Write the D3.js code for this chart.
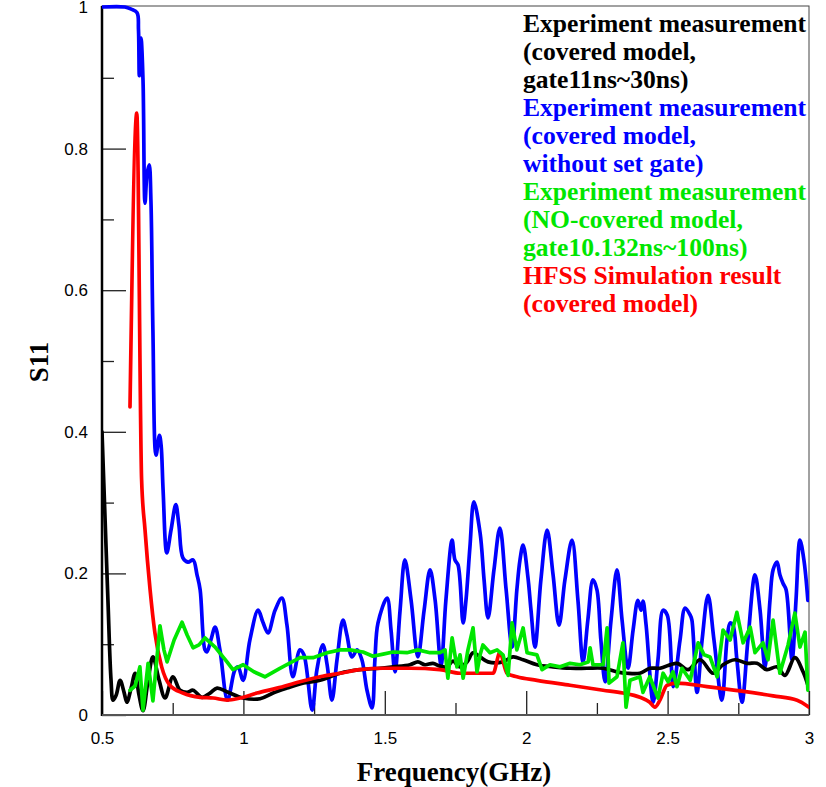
<!DOCTYPE html>
<html>
<head>
<meta charset="utf-8">
<script src="https://cdn.jsdelivr.net/npm/d3@7"></script>
<style>
  body { margin: 0; background: #fff; }
  svg { display: block; }
</style>
</head>
<body>
<script>
//------------ DATA (frequency GHz, S11) ----------------------
const blue = [[0.5,1.0],[0.581,1.0],[0.603,0.997],[0.624,0.992],[0.629,0.968],[0.632,0.903],[0.638,0.956],[0.645,0.897],[0.652,0.723],[0.659,0.763],[0.667,0.777],[0.673,0.727],[0.680,0.544],[0.691,0.367],[0.703,0.395],[0.709,0.381],[0.716,0.318],[0.729,0.229],[0.744,0.261],[0.761,0.297],[0.772,0.268],[0.786,0.222],[0.804,0.216],[0.822,0.219],[0.836,0.198],[0.847,0.177],[0.864,0.092],[0.871,0.089],[0.885,0.106],[0.900,0.124],[0.917,0.092],[0.944,0.021],[0.970,0.064],[0.981,0.068],[0.999,0.049],[1.023,0.106],[1.052,0.148],[1.069,0.131],[1.087,0.116],[1.112,0.148],[1.136,0.165],[1.154,0.127],[1.175,0.054],[1.200,0.092],[1.214,0.085],[1.243,0.007],[1.260,0.064],[1.281,0.099],[1.296,0.071],[1.313,0.021],[1.331,0.078],[1.352,0.134],[1.366,0.113],[1.384,0.082],[1.402,0.092],[1.419,0.078],[1.437,0.035],[1.455,0.010],[1.465,0.078],[1.476,0.130],[1.508,0.165],[1.522,0.120],[1.536,0.061],[1.554,0.148],[1.571,0.219],[1.593,0.162],[1.617,0.082],[1.639,0.148],[1.660,0.205],[1.678,0.162],[1.699,0.071],[1.716,0.162],[1.738,0.247],[1.748,0.219],[1.759,0.212],[1.777,0.130],[1.787,0.162],[1.801,0.237],[1.815,0.301],[1.837,0.257],[1.851,0.191],[1.865,0.137],[1.886,0.205],[1.907,0.264],[1.929,0.177],[1.950,0.096],[1.967,0.177],[1.978,0.219],[1.989,0.240],[2.006,0.195],[2.017,0.148],[2.031,0.096],[2.052,0.191],[2.074,0.261],[2.095,0.198],[2.116,0.127],[2.137,0.191],[2.162,0.247],[2.183,0.162],[2.201,0.075],[2.218,0.134],[2.236,0.191],[2.250,0.177],[2.264,0.106],[2.279,0.047],[2.300,0.134],[2.321,0.205],[2.339,0.134],[2.360,0.066],[2.378,0.120],[2.395,0.162],[2.406,0.148],[2.413,0.161],[2.424,0.127],[2.449,0.018],[2.466,0.078],[2.484,0.148],[2.499,0.141],[2.520,0.040],[2.544,0.106],[2.562,0.151],[2.580,0.141],[2.586,0.134],[2.604,0.032],[2.622,0.106],[2.643,0.169],[2.664,0.106],[2.692,0.021],[2.710,0.106],[2.721,0.130],[2.731,0.127],[2.745,0.078],[2.763,0.018],[2.784,0.106],[2.809,0.198],[2.827,0.148],[2.844,0.068],[2.862,0.162],[2.873,0.205],[2.887,0.216],[2.897,0.198],[2.908,0.186],[2.919,0.177],[2.940,0.078],[2.954,0.162],[2.968,0.247],[2.982,0.219],[2.996,0.162]];

const red = [[0.599,0.435],[0.623,0.850],[0.640,0.333],[0.652,0.262],[0.670,0.177],[0.687,0.116],[0.711,0.068],[0.740,0.042],[0.786,0.031],[0.847,0.025],[0.893,0.024],[0.942,0.021],[0.988,0.024],[1.048,0.031],[1.119,0.038],[1.200,0.047],[1.271,0.054],[1.342,0.059],[1.412,0.064],[1.494,0.066],[1.589,0.066],[1.695,0.064],[1.766,0.059],[1.837,0.059],[1.883,0.059],[1.907,0.088],[1.932,0.059],[1.967,0.054],[2.038,0.049],[2.155,0.042],[2.272,0.035],[2.342,0.031],[2.402,0.025],[2.437,0.018],[2.455,0.011],[2.473,0.021],[2.498,0.042],[2.533,0.045],[2.639,0.040],[2.756,0.034],[2.873,0.027],[2.958,0.021],[3.0,0.011]];

const black = [[0.500,0.400],[0.511,0.275],[0.521,0.162],[0.532,0.049],[0.539,0.021],[0.550,0.028],[0.564,0.049],[0.578,0.032],[0.588,0.018],[0.603,0.038],[0.617,0.059],[0.631,0.028],[0.645,0.006],[0.663,0.049],[0.680,0.082],[0.702,0.049],[0.723,0.024],[0.751,0.054],[0.776,0.035],[0.801,0.032],[0.822,0.035],[0.854,0.025],[0.882,0.031],[0.907,0.038],[0.946,0.032],[0.999,0.024],[1.059,0.023],[1.105,0.031],[1.154,0.038],[1.200,0.044],[1.271,0.049],[1.342,0.059],[1.412,0.064],[1.483,0.066],[1.529,0.068],[1.589,0.071],[1.617,0.075],[1.642,0.071],[1.670,0.073],[1.695,0.069],[1.720,0.068],[1.741,0.076],[1.766,0.068],[1.791,0.075],[1.812,0.088],[1.837,0.082],[1.865,0.075],[1.918,0.075],[1.953,0.082],[1.989,0.078],[2.038,0.071],[2.095,0.068],[2.155,0.066],[2.215,0.066],[2.272,0.066],[2.321,0.061],[2.356,0.059],[2.402,0.059],[2.437,0.066],[2.473,0.066],[2.533,0.073],[2.572,0.064],[2.615,0.078],[2.661,0.059],[2.696,0.071],[2.738,0.078],[2.781,0.073],[2.816,0.073],[2.851,0.064],[2.887,0.068],[2.915,0.056],[2.950,0.081],[2.979,0.061],[2.996,0.042]];

const green = [[0.599,0.035],[0.617,0.041],[0.634,0.068],[0.645,0.007],[0.663,0.073],[0.680,0.020],[0.705,0.126],[0.719,0.092],[0.730,0.075],[0.755,0.106],[0.783,0.131],[0.801,0.113],[0.822,0.095],[0.843,0.099],[0.864,0.109],[0.900,0.096],[0.942,0.075],[0.963,0.064],[0.999,0.071],[1.037,0.061],[1.076,0.054],[1.129,0.066],[1.200,0.081],[1.246,0.081],[1.296,0.088],[1.342,0.092],[1.377,0.092],[1.423,0.089],[1.458,0.083],[1.494,0.086],[1.529,0.089],[1.578,0.088],[1.617,0.092],[1.660,0.088],[1.695,0.088],[1.713,0.092],[1.723,0.052],[1.738,0.109],[1.755,0.068],[1.766,0.085],[1.777,0.052],[1.794,0.092],[1.812,0.123],[1.826,0.061],[1.837,0.085],[1.847,0.099],[1.872,0.088],[1.897,0.092],[1.918,0.085],[1.936,0.056],[1.950,0.130],[1.967,0.092],[1.989,0.123],[2.003,0.088],[2.038,0.085],[2.056,0.064],[2.084,0.071],[2.120,0.068],[2.155,0.073],[2.190,0.071],[2.219,0.075],[2.226,0.095],[2.236,0.071],[2.272,0.071],[2.286,0.123],[2.293,0.045],[2.321,0.054],[2.342,0.102],[2.353,0.011],[2.367,0.049],[2.402,0.054],[2.413,0.032],[2.437,0.054],[2.466,0.024],[2.484,0.059],[2.502,0.047],[2.519,0.061],[2.533,0.040],[2.551,0.066],[2.580,0.049],[2.608,0.102],[2.629,0.085],[2.650,0.082],[2.675,0.054],[2.696,0.120],[2.721,0.106],[2.745,0.145],[2.767,0.102],[2.792,0.124],[2.809,0.088],[2.837,0.102],[2.855,0.078],[2.873,0.134],[2.897,0.059],[2.926,0.099],[2.950,0.144],[2.968,0.096],[2.986,0.117],[2.996,0.035]];

const xMajor = [0.5, 1, 1.5, 2, 2.5, 3];
const xMinor = [0.75, 1.25, 1.75, 2.25, 2.75];
const yMajor = [0, 0.2, 0.4, 0.6, 0.8, 1];
const yMinor = [0.1, 0.3, 0.5, 0.7, 0.9];

const legendLines = [
  ["Experiment measurement", "#000"],
  ["(covered model,", "#000"],
  ["gate11ns~30ns)", "#000"],
  ["Experiment measurement", "#0000ff"],
  ["(covered model,", "#0000ff"],
  ["without set gate)", "#0000ff"],
  ["Experiment measurement", "#00e600"],
  ["(NO-covered model,", "#00e600"],
  ["gate10.132ns~100ns)", "#00e600"],
  ["HFSS Simulation result", "#ff0000"],
  ["(covered model)", "#ff0000"]
];
//----------------------------------------------------

const width = 826, height = 787;
const pLeft = 102, pRight = 809, pTop = 7, pBottom = 715;

var svg = d3.select("body").append("svg")
    .attr("width", width)
    .attr("height", height);

var x = d3.scaleLinear().domain([0.5, 3]).range([pLeft, pRight]);
var y = d3.scaleLinear().domain([0, 1]).range([pBottom, pTop]);

svg.append("defs").append("clipPath").attr("id", "plot")
  .append("rect").attr("x", pLeft).attr("y", pTop - 3)
  .attr("width", pRight - pLeft).attr("height", pBottom - pTop + 3);

// frame
svg.append("rect")
    .attr("x", pLeft).attr("y", pTop - 1)
    .attr("width", pRight - pLeft).attr("height", pBottom - pTop + 1)
    .attr("fill", "none").attr("stroke", "#444").attr("stroke-width", 1);

//------------ AXES ----------------------
var fontTick = "'Liberation Sans', Arial, sans-serif";
var fontSerif = "'Liberation Serif', 'Times New Roman', serif";

var yAxis = svg.append("g").attr("transform", `translate(${pLeft},0)`)
    .call(d3.axisLeft(y).tickValues(yMajor).tickSize(-24).tickSizeOuter(0).tickPadding(14).tickFormat(d => d));
var yAxisMinor = svg.append("g").attr("transform", `translate(${pLeft},0)`)
    .call(d3.axisLeft(y).tickValues(yMinor).tickSize(-12).tickSizeOuter(0).tickFormat(""));
var xAxis = svg.append("g").attr("transform", `translate(0,${pBottom})`)
    .call(d3.axisBottom(x).tickValues(xMajor).tickSize(-24).tickSizeOuter(0).tickPadding(17).tickFormat(d => d));
var xAxisMinor = svg.append("g").attr("transform", `translate(0,${pBottom})`)
    .call(d3.axisBottom(x).tickValues(xMinor).tickSize(-12).tickSizeOuter(0).tickFormat(""));

[yAxis, yAxisMinor, xAxis, xAxisMinor].forEach(g => {
  g.select(".domain").remove();
  g.selectAll(".tick line").attr("stroke", "#222").attr("stroke-width", 1.3);
  g.selectAll(".tick text").attr("font-family", fontTick).attr("font-size", 17).attr("fill", "#000");
});

svg.append("line").attr("x1", pLeft).attr("x2", pLeft).attr("y1", pTop - 1).attr("y2", pBottom + 1)
    .attr("stroke", "#000").attr("stroke-width", 2.5);
svg.append("line").attr("x1", pLeft).attr("x2", pRight).attr("y1", pBottom).attr("y2", pBottom)
    .attr("stroke", "#555").attr("stroke-width", 2);

//------------ LINES ----------------------
var lineSmooth = d3.line().x(d => x(d[0])).y(d => y(d[1])).curve(d3.curveCatmullRom.alpha(0.5));
var lineMono = d3.line().x(d => x(d[0])).y(d => y(d[1])).curve(d3.curveMonotoneX);
var lineStraight = d3.line().x(d => x(d[0])).y(d => y(d[1]));

var plot = svg.append("g").attr("clip-path", "url(#plot)");

[[blue, "#0000ff", lineSmooth], [black, "#000000", lineSmooth], [red, "#ff0000", lineMono], [green, "#00e600", lineStraight]]
  .forEach(function(s) {
    plot.append("path")
        .datum(s[0])
        .attr("fill", "none")
        .attr("stroke", s[1])
        .attr("stroke-width", 3.7)
        .attr("stroke-linejoin", "round")
        .attr("stroke-linecap", "round")
        .attr("d", s[2]);
  });

//------------ LEGEND ----------------------
var legend = svg.append("g");
legend.selectAll("text")
  .data(legendLines)
  .enter().append("text")
    .attr("x", 523)
    .attr("y", (d, i) => 32 + i * 28)
    .attr("font-family", fontSerif)
    .attr("font-weight", "bold")
    .attr("font-size", 25.6)
    .attr("fill", d => d[1])
    .text(d => d[0]);

//------------ TITLES ----------------------
svg.append("text")
    .attr("transform", "translate(48,362) rotate(-90)")
    .attr("text-anchor", "middle")
    .attr("font-family", fontSerif)
    .attr("font-weight", "bold")
    .attr("font-size", 27)
    .text("S11");

svg.append("text")
    .attr("x", 454)
    .attr("y", 781)
    .attr("text-anchor", "middle")
    .attr("font-family", fontSerif)
    .attr("font-weight", "bold")
    .attr("font-size", 27)
    .text("Frequency(GHz)");
</script>
</body>
</html>
